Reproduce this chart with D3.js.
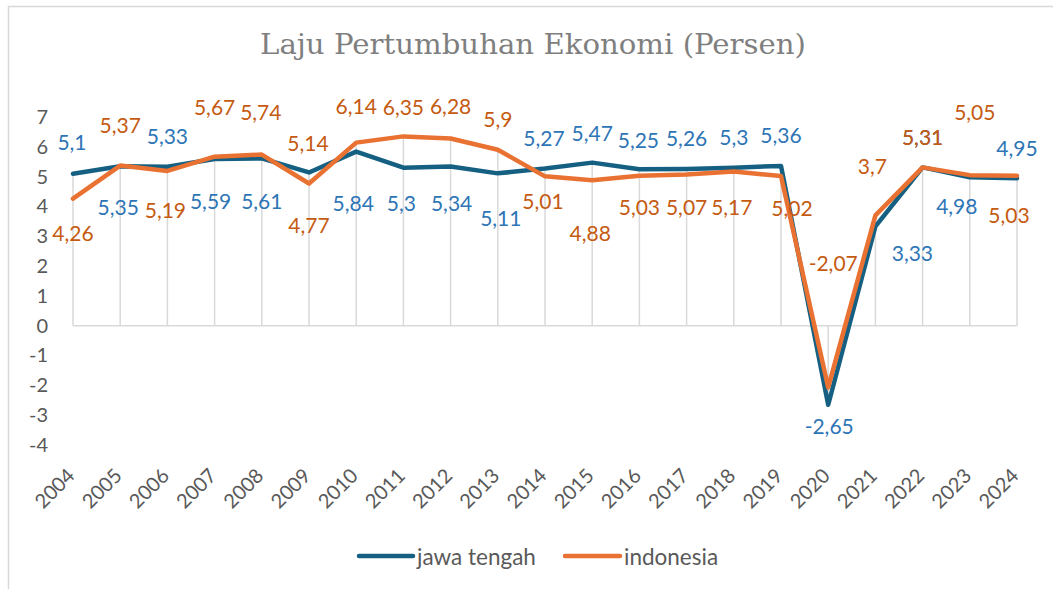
<!DOCTYPE html>
<html>
<head>
<meta charset="utf-8">
<script src="https://cdn.jsdelivr.net/npm/d3@7"></script>
<style>
  html, body { margin: 0; padding: 0; background: #fff; }
  svg { display: block; }
</style>
</head>
<body>
<svg id="chart" width="1053" height="589"></svg>
<script>
// ---- data ----
const years = ["2004","2005","2006","2007","2008","2009","2010","2011","2012","2013","2014",
               "2015","2016","2017","2018","2019","2020","2021","2022","2023","2024"];
const jawaTengah = [5.1,5.35,5.33,5.59,5.61,5.14,5.84,5.3,5.34,5.11,5.27,
                    5.47,5.25,5.26,5.3,5.36,-2.65,3.33,5.31,4.98,4.95];
const indonesia  = [4.26,5.37,5.19,5.67,5.74,4.77,6.14,6.35,6.28,5.9,5.01,
                    4.88,5.03,5.07,5.17,5.02,-2.07,3.7,5.31,5.05,5.03];
const yTicks = [-4,-3,-2,-1,0,1,2,3,4,5,6,7];
const seriesNames = ["jawa tengah", "indonesia"];
const titleText = "Laju Pertumbuhan Ekonomi (Persen)";

// ---- label placement (layout only, in pixels) ----
const jtLabelDy = [-32,40,-31,41,42,-30,51,35,36,44,-31,-30,-30,-31,-31,-31,21,26,-31,28,-31];
const jtLabelDx = [-1,-2,0,-4,0,-1,-3,-2,1,3,-1,0,-1,0,0,0,1,37,0,-13,0];
const idLabelDy = [34,-41,39,-50,-43,41,-37,-30,-33,-31,24,52,31,32,35,31,-125,-50,-31,-64,39];
const idLabelDx = [0,0,-2,0,-1,0,0,0,0,0,-2,-2,0,0,-2,11,5,-3,0,5,-8];
const jtLabelUsesOtherColor = [5]; // index whose label is drawn in the other series' colour

// ---- styles ----
const lineColors = ["#156082", "#E97132"];
const labelColors = ["#2E75B6", "#C55A11"];
const gridColor = "#d9d9d9";
const textGray = "#595959";
const font = "Lato, 'Open Sans', sans-serif";

const svg = d3.select("#chart");

// chart border
svg.append("rect")
  .attr("x", 8.5).attr("y", 6.5).attr("width", 1100).attr("height", 640)
  .attr("fill", "#fff").attr("stroke", gridColor).attr("stroke-width", 1.5);

// title
svg.append("text")
  .attr("x", 533).attr("y", 54)
  .attr("text-anchor", "middle")
  .attr("font-family", "'DejaVu Serif', 'Liberation Serif', serif")
  .attr("font-size", 28)
  .attr("fill", "#7f7f7f")
  .attr("textLength", 546)
  .attr("lengthAdjust", "spacingAndGlyphs")
  .text(titleText);

// scales
const x = d3.scalePoint().domain(years).range([73, 1017]);
const y = d3.scaleLinear().domain([-4, 7]).range([445, 117]);

// drop lines
const g = svg.append("g");
g.selectAll("line.drop").data(years).enter().append("line")
  .attr("class", "drop")
  .attr("x1", d => x(d)).attr("x2", d => x(d))
  .attr("y1", (d, i) => y(Math.max(0, jawaTengah[i], indonesia[i])))
  .attr("y2", (d, i) => y(Math.min(0, jawaTengah[i], indonesia[i])))
  .attr("stroke", gridColor).attr("stroke-width", 1.5);

// zero axis line
g.append("line")
  .attr("x1", x(years[0])).attr("x2", x(years[years.length - 1]))
  .attr("y1", y(0)).attr("y2", y(0))
  .attr("stroke", gridColor).attr("stroke-width", 1.5);

// y axis labels
const yAxis = d3.axisLeft(y).tickValues(yTicks).tickSize(0).tickPadding(0)
  .tickFormat(d => String(d));
const yg = svg.append("g").attr("transform", "translate(48,0)").call(yAxis);
yg.select(".domain").remove();
yg.selectAll("text")
  .attr("font-family", font).attr("font-size", 20).attr("fill", textGray);

// x axis labels
const xAxis = d3.axisBottom(x).tickSize(0).tickPadding(0);
const xg = svg.append("g").call(xAxis);
xg.select(".domain").remove();
xg.selectAll(".tick").attr("transform", d => `translate(${x(d) + 3},477)`);
xg.selectAll("text")
  .attr("font-family", font).attr("font-size", 20).attr("fill", textGray)
  .attr("text-anchor", "end").attr("dy", 0).attr("y", 0).attr("x", 0)
  .attr("transform", "rotate(-45)");

// lines
const line = d3.line().x((d, i) => x(years[i])).y(d => y(d));
[jawaTengah, indonesia].forEach((vals, s) => {
  svg.append("path")
    .datum(vals)
    .attr("d", line)
    .attr("fill", "none")
    .attr("stroke", lineColors[s])
    .attr("stroke-width", 4.5)
    .attr("stroke-linejoin", "round")
    .attr("stroke-linecap", "round");
});

// data labels
const fmt = v => String(v).replace(".", ",");
function drawLabels(vals, dxs, dys, s) {
  svg.append("g").selectAll("text").data(vals).enter().append("text")
    .attr("x", (d, i) => x(years[i]) + dxs[i])
    .attr("y", (d, i) => y(d) + dys[i])
    .attr("text-anchor", "middle")
    .attr("dominant-baseline", "central")
    .attr("font-family", font).attr("font-size", 21)
    .attr("fill", (d, i) => {
      if (s === 0 && jtLabelUsesOtherColor.includes(i)) return labelColors[1];
      return labelColors[s];
    })
    .text(d => fmt(d));
}
drawLabels(jawaTengah, jtLabelDx, jtLabelDy, 0);
drawLabels(indonesia, idLabelDx, idLabelDy, 1);

// legend
const legend = [
  { name: seriesNames[0], x1: 359, x2: 413, color: lineColors[0] },
  { name: seriesNames[1], x1: 565, x2: 620, color: lineColors[1] }
];
const lg = svg.append("g");
legend.forEach(l => {
  lg.append("line")
    .attr("x1", l.x1).attr("x2", l.x2).attr("y1", 556).attr("y2", 556)
    .attr("stroke", l.color).attr("stroke-width", 4.5).attr("stroke-linecap", "round");
  lg.append("text")
    .attr("x", l.x2 + 4).attr("y", 556)
    .attr("dominant-baseline", "central")
    .attr("font-family", font).attr("font-size", 22.5).attr("fill", textGray)
    .text(l.name);
});
</script>
</body>
</html>
